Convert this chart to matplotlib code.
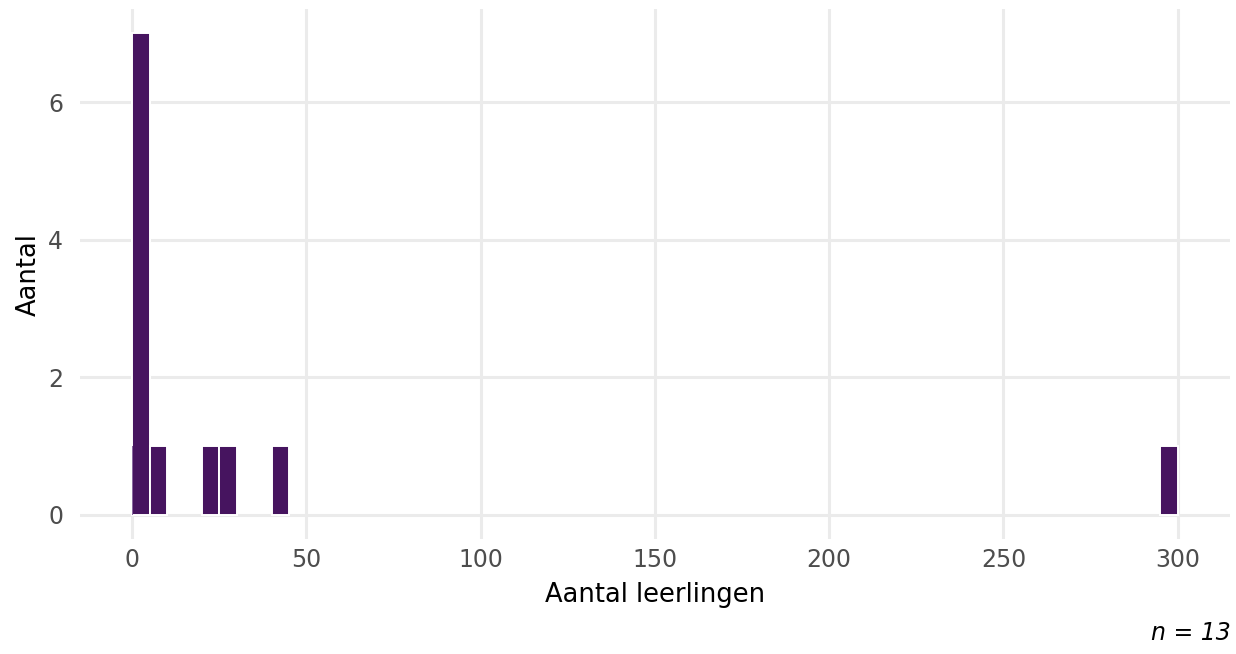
import matplotlib
matplotlib.use("Agg")
import matplotlib.pyplot as plt
import numpy as np

# histogram of "Aantal leerlingen" (bin width 5)
BIN_LEFT = [0, 5, 20, 25, 40, 295]
BIN_COUNT = [7, 1, 1, 1, 1, 1]
BIN_WIDTH = 5
# the narrow sliver drawn right at 0
SLIVER_LEFT = [0.0]
SLIVER_COUNT = [1]
SLIVER_WIDTH = 0.25

X_TICKS = [0, 50, 100, 150, 200, 250, 300]
Y_TICKS = [0, 2, 4, 6]
N_TOTAL = 13

BAR_COLOR = "#46145f"
GRID_COLOR = "#ebebeb"
TICK_COLOR = "#4d4d4d"

fig = plt.figure(figsize=(12.36, 6.54), dpi=100)
ax = fig.add_axes([0.0647, 0.1758, 0.9304, 0.8102])

ax.bar(BIN_LEFT, BIN_COUNT, width=BIN_WIDTH, align="edge", color=BAR_COLOR,
       edgecolor="white", linewidth=1.4, zorder=2)
ax.bar(SLIVER_LEFT, SLIVER_COUNT, width=SLIVER_WIDTH, align="edge",
       color="#8a6aa0", linewidth=0, zorder=2)

ax.set_xlim(-15, 315)
ax.set_ylim(-0.35, 7.35)
ax.set_xticks(X_TICKS)
ax.set_yticks(Y_TICKS)
ax.grid(True, color=GRID_COLOR, linewidth=2.2, zorder=0)
ax.set_axisbelow(True)
for s in ax.spines.values():
    s.set_visible(False)
ax.tick_params(length=0, labelsize=17, labelcolor=TICK_COLOR)
ax.tick_params(axis="x", pad=6.5)
ax.tick_params(axis="y", pad=12)

ax.set_xlabel("Aantal leerlingen", fontsize=18.5)
ax.set_ylabel("Aantal", fontsize=18.5)
ax.xaxis.set_label_coords(0.5, -0.081)
ax.yaxis.set_label_coords(-0.033, 0.5)

fig.text(0.996, 0.032, f"n = {N_TOTAL}", ha="right", va="center",
         fontsize=17, style="italic")

fig.savefig("out.png", dpi=100)
